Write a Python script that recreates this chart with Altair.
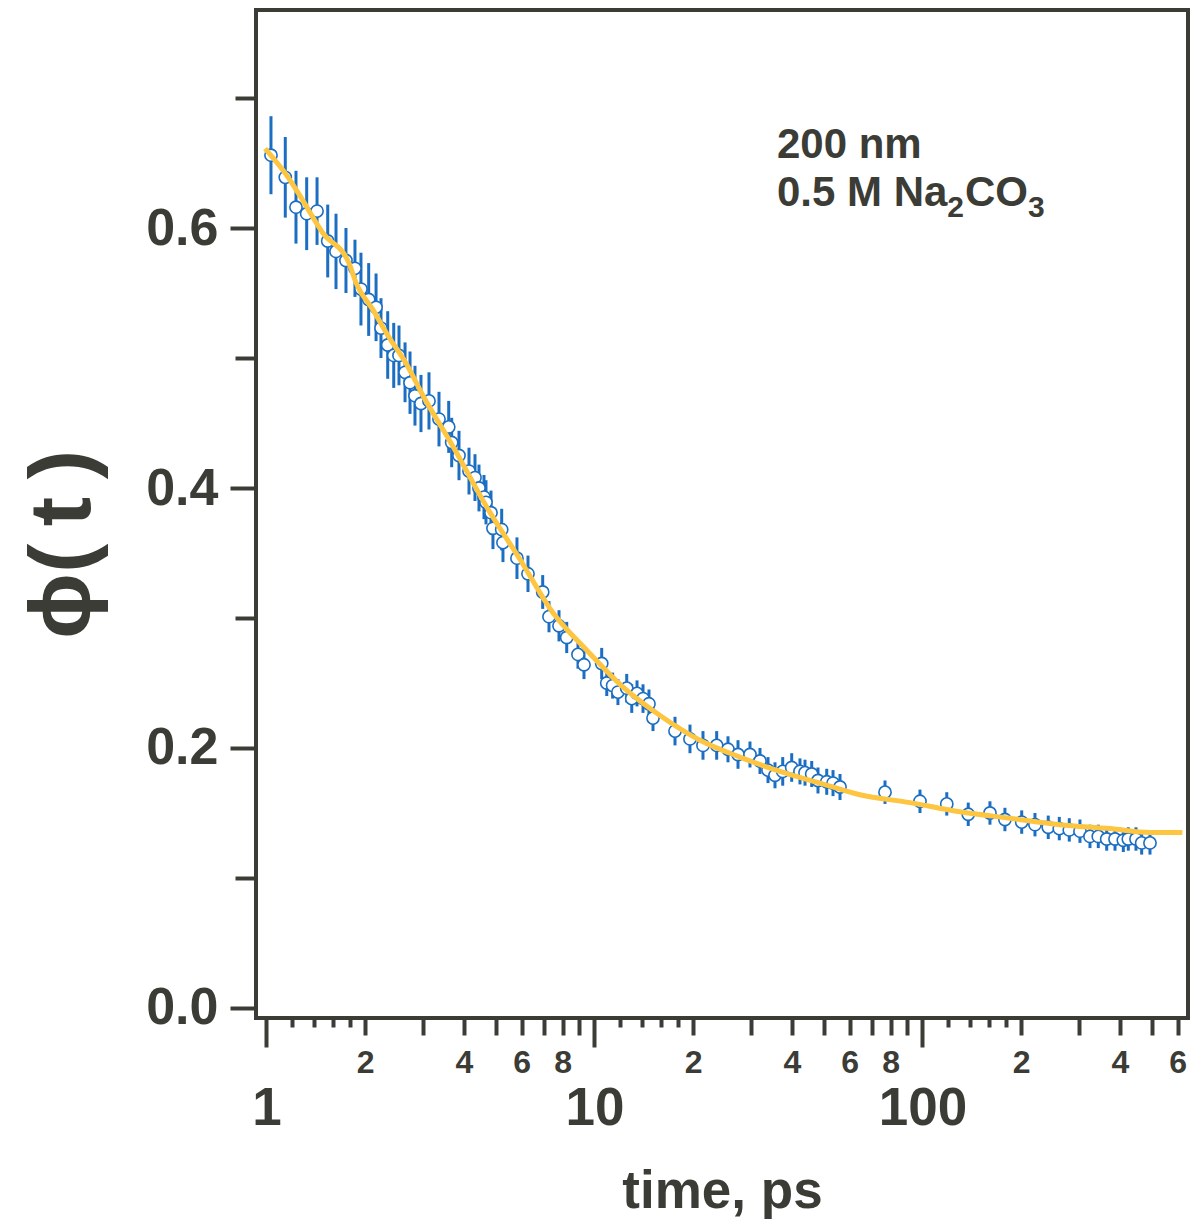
import altair as alt
import pandas as pd

# ---- data ----
time_ps = [1.032, 1.141, 1.230, 1.326, 1.426, 1.537, 1.629, 1.747, 1.861, 1.941, 2.049, 2.158,
           2.234, 2.342, 2.443, 2.535, 2.645, 2.739, 2.836, 2.958, 3.129, 3.357, 3.594,
           3.670, 3.863, 4.144, 4.322, 4.445, 4.604, 4.669, 4.836, 4.903, 5.213, 5.260, 5.803,
           6.270, 6.952, 7.266, 7.795, 8.229, 8.907, 9.290, 10.52, 10.90, 11.36, 11.79,
           12.54, 12.99, 13.48, 14.06, 14.66, 15.08, 17.60, 19.55, 21.42, 23.58, 25.53, 27.39,
           29.79, 31.96, 33.81, 35.51, 37.49, 39.93, 42.32, 43.84, 45.95, 48.02, 51.06, 53.37, 56.05,
           76.87, 98.26, 118.6, 137.9, 160.6, 178.4, 200.7, 220.3, 241.8, 261.3, 280.3, 302.1,
           324.1, 343.6, 364.5, 386.4, 409.6, 424.2, 447.7, 465.9, 493.9]
phi = [0.656, 0.639, 0.616, 0.611, 0.613, 0.590, 0.582, 0.575, 0.569, 0.553, 0.545, 0.539,
       0.523, 0.510, 0.502, 0.502, 0.489, 0.481, 0.471, 0.465, 0.467, 0.453, 0.447,
       0.435, 0.425, 0.413, 0.408, 0.400, 0.393, 0.389, 0.381, 0.369, 0.368, 0.358, 0.346,
       0.334, 0.320, 0.301, 0.294, 0.285, 0.272, 0.264, 0.265, 0.250, 0.248, 0.243,
       0.246, 0.238, 0.242, 0.238, 0.234, 0.223, 0.213, 0.207, 0.202, 0.202, 0.199, 0.195,
       0.195, 0.190, 0.183, 0.179, 0.182, 0.185, 0.182, 0.181, 0.180, 0.175, 0.174, 0.173, 0.170,
       0.166, 0.159, 0.157, 0.149, 0.150, 0.145, 0.143, 0.141, 0.139, 0.138, 0.137, 0.136,
       0.132, 0.132, 0.130, 0.130, 0.129, 0.130, 0.130, 0.127, 0.127]
phi_err = [0.030, 0.031, 0.028, 0.028, 0.026, 0.028, 0.029, 0.025, 0.022, 0.028, 0.028, 0.026,
           0.023, 0.026, 0.025, 0.023, 0.023, 0.024, 0.023, 0.022, 0.022, 0.021, 0.020,
           0.019, 0.019, 0.018, 0.018, 0.018, 0.017, 0.017, 0.017, 0.016, 0.016, 0.015, 0.016,
           0.014, 0.013, 0.012, 0.012, 0.012, 0.011, 0.011, 0.012, 0.010, 0.010, 0.010,
           0.011, 0.011, 0.010, 0.011, 0.011, 0.010, 0.011, 0.011, 0.011, 0.011, 0.010, 0.011,
           0.010, 0.010, 0.010, 0.010, 0.011, 0.011, 0.010, 0.010, 0.010, 0.010, 0.010, 0.010, 0.010,
           0.009, 0.009, 0.009, 0.009, 0.009, 0.009, 0.009, 0.009, 0.009, 0.009, 0.009, 0.009,
           0.009, 0.009, 0.009, 0.009, 0.009, 0.009, 0.009, 0.009, 0.009]

fit_t = [0.99, 1.171, 1.256, 1.487, 1.784, 1.874, 2.112, 2.363, 2.663, 3.000, 3.452, 3.703,
         4.701, 5.929, 7.471, 9.487, 11.96, 15.84, 20.97, 27.77, 36.78, 48.70, 64.48, 91.61,
         130.1, 184.9, 262.6, 372.9, 493.9, 620.0]
fit_phi = [0.661, 0.638, 0.626, 0.596, 0.573, 0.558, 0.537, 0.516, 0.496, 0.471, 0.445, 0.432,
           0.385, 0.345, 0.304, 0.275, 0.249, 0.225, 0.206, 0.193, 0.182, 0.173, 0.164, 0.158,
           0.151, 0.146, 0.141, 0.138, 0.135, 0.135]

x_major = [1, 10, 100]
x_mid = [2, 3, 4, 5, 6, 7, 8, 9, 20, 30, 40, 50, 60, 70, 80, 90, 200, 300, 400, 500, 600]
x_minor = [1.2, 1.4, 1.6, 1.8, 12, 14, 16, 18, 120, 140, 160, 180]
x_mid_labels = {"2": [2, 20, 200], "4": [4, 40, 400], "6": [6, 60, 600], "8": [8, 80]}
y_ticks = [0.0, 0.1, 0.2, 0.3, 0.4, 0.5, 0.6, 0.7]
y_labelled = [0.0, 0.2, 0.4, 0.6]

# annotation: anchor (data coords) and text pieces (main text / subscripts)
ann_t = 36.0
ann_line1_phi = 0.6535
ann_line2_phi = 0.617
ann_line1 = "200 nm"
ann_pieces = ["0.5 M Na", "2", "CO", "3"]
ann_piece_sub = [False, True, False, True]

INK = "#3c3c37"
BLUE = "#1b6ec2"
GOLD = "#fdc540"
FONT = "Liberation Sans"
ANN_SIZE = 42
SUB_SIZE = 30

df = pd.DataFrame({"t": time_ps, "phi": phi, "err": phi_err})
df["lo"] = df["phi"] - df["err"]
df["hi"] = df["phi"] + df["err"]
fit = pd.DataFrame({"t": fit_t, "phi": fit_phi})

def arr(v):
    return "[" + ",".join(str(x) for x in v) + "]"

major_test = f"indexof({arr(x_major)}, datum.value) >= 0"
mid_test = f"indexof({arr(x_mid)}, datum.value) >= 0"
lab = "''"
for k, vals in reversed(list(x_mid_labels.items())):
    lab = f"indexof({arr(vals)}, datum.value) >= 0 ? '{k}' : {lab}"
x_label_expr = f"{major_test} ? format(datum.value, 'd') : {lab}"

x_scale = alt.Scale(type="log", domain=[0.929, 645], nice=False)
y_scale = alt.Scale(domain=[-0.0077, 0.7677], nice=False, zero=False)

x_axis = alt.Axis(
    values=sorted(x_major + x_mid + x_minor),
    labelExpr=x_label_expr,
    tickSize={"expr": f"{major_test} ? 29 : ({mid_test} ? 17 : 9)"},
    labelFontSize={"condition": {"test": major_test, "value": 53}, "value": 32},
    labelPadding={"condition": {"test": major_test, "value": 35}, "value": 12},
    tickWidth=4, tickColor=INK, domain=False, grid=False,
    labelFont=FONT, labelFontWeight="bold", labelColor=INK,
    labelOverlap=False, labelFlush=False, labelBound=False,
    title="time, ps", titleFont=FONT, titleFontSize=53, titleFontWeight="bold", titleColor=INK,
    titleX=466, titleY=189, titleAlign="center", titleBaseline="alphabetic",
)
y_test = f"indexof({arr(y_labelled)}, datum.value) >= 0"
y_axis = alt.Axis(
    values=y_ticks,
    labelExpr=f"{y_test} ? format(datum.value, '.1f') : ''",
    tickSize={"condition": {"test": y_test, "value": 26}, "value": 21},
    tickWidth=4, tickColor=INK, domain=False, grid=False,
    labelFont=FONT, labelFontSize=52, labelFontWeight="bold", labelColor=INK,
    labelPadding=12, labelOverlap=False, labelBound=False, labelFlush=False,
    title="ϕ(\u2009t\u2009)", titleFont=FONT, titleFontSize=88, titleFontWeight="bold", titleColor=INK,
    titleX=-193, titleY=534, titleAngle=270, titleAlign="center", titleBaseline="middle",
)

X = alt.X("t:Q", scale=x_scale, axis=x_axis)
Y_phi = alt.Y("phi:Q", scale=y_scale, axis=y_axis)

bars = alt.Chart(df).mark_rule(color=BLUE, strokeWidth=3).encode(
    x=X,
    y=alt.Y("lo:Q", scale=y_scale, axis=y_axis),
    y2="hi:Q",
)
pts = alt.Chart(df).mark_point(filled=True, fill="white", stroke=BLUE, strokeWidth=1.6,
                               size=150, opacity=1).encode(x=X, y=Y_phi)
line = alt.Chart(fit).mark_line(color=GOLD, strokeWidth=5, interpolate="monotone").encode(x=X, y=Y_phi)

layers = [bars, pts, line]

# line 1 of annotation
l1 = pd.DataFrame({"t": [ann_t], "phi": [ann_line1_phi], "text": [ann_line1]})
layers.append(alt.Chart(l1).mark_text(align="left", baseline="alphabetic", font=FONT,
                                      fontWeight="bold", fontSize=ANN_SIZE, color=INK).encode(
    x=X, y=Y_phi, text="text:N"))

# line 2 with subscripts, laid out piece by piece (Liberation Sans bold advance widths)
adv = {"0": 0.556, ".": 0.278, "5": 0.556, " ": 0.278, "M": 0.833, "N": 0.722, "a": 0.556,
       "2": 0.556, "C": 0.722, "O": 0.778, "3": 0.556}
dx = 0.0
for piece, sub in zip(ann_pieces, ann_piece_sub):
    size = SUB_SIZE if sub else ANN_SIZE
    p = pd.DataFrame({"t": [ann_t], "phi": [ann_line2_phi], "text": [piece]})
    layers.append(alt.Chart(p).mark_text(align="left", baseline="alphabetic", font=FONT,
                                         fontWeight="bold", fontSize=size, color=INK,
                                         dx=round(dx, 1), dy=11 if sub else 0).encode(
        x=X, y=Y_phi, text="text:N"))
    dx += sum(adv[c] for c in piece) * size + (1 if sub else 0)

chart = alt.layer(*layers).properties(
    width=932, height=1008,
    padding={"left": 256, "top": 10, "right": 4, "bottom": 212},
    autosize=alt.AutoSizeParams(type="none"),
).configure_view(stroke=INK, strokeWidth=4)

chart.save("out.html", embed_options={"renderer": "svg", "actions": False})
